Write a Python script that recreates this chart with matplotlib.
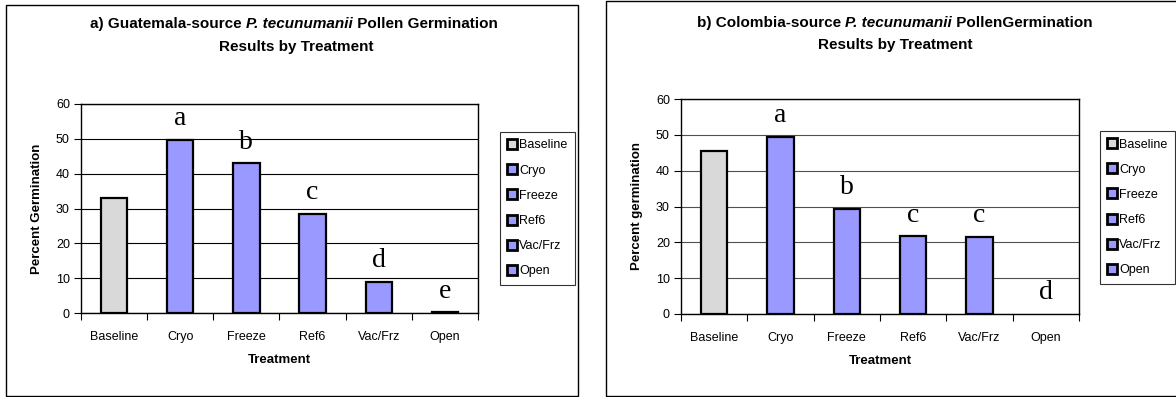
import matplotlib.pyplot as plt
from matplotlib.lines import Line2D
from matplotlib.patches import Rectangle

treatments = ["Baseline", "Cryo", "Freeze", "Ref6", "Vac/Frz", "Open"]
guatemala = [33.0, 49.7, 43.0, 28.5, 9.0, 0.2]
guatemala_letters = ["", "a", "b", "c", "d", "e"]
colombia = [45.4, 49.5, 29.3, 21.7, 21.5, 0.0]
colombia_letters = ["", "a", "b", "c", "c", "d"]

GREY = "#d9d9d9"
BLUE = "#9999ff"
colors = [GREY] + [BLUE] * 5

W, H = 1176, 397
plt.rcParams["font.family"] = ["Liberation Sans", "DejaVu Sans"]

fig = plt.figure(figsize=(W / 100, H / 100), dpi=100)
renderer = fig.canvas.get_renderer()


def px_axes(left, top, right, bottom):
    return fig.add_axes([left / W, (H - bottom) / H, (right - left) / W, (bottom - top) / H])


def title_line(x, y, pieces, size=11):
    # pieces: (text, italic) drawn one after another from pixel x
    for text, italic in pieces:
        t = fig.text(x / W, 1 - y / H, text, ha="left", va="center", fontsize=size,
                     fontweight="bold", fontstyle="italic" if italic else "normal")
        x = t.get_window_extent(renderer).x1


def draw_chart(ax, values, letters, ylabel, gridcolor):
    xs = range(len(treatments))
    ax.bar(xs, values, width=0.4, color=colors, edgecolor="black",
           linewidth=[1.6 if v > 0 else 0 for v in values], zorder=3)
    for x, v, s in zip(xs, values, letters):
        if s:
            ax.annotate(s, (x, v), xytext=(0, 10.5), textcoords="offset points",
                        ha="center", va="baseline", fontsize=20,
                        family=["Liberation Serif", "DejaVu Serif"])
    ax.set_xlim(-0.5, len(treatments) - 0.5)
    ax.set_ylim(0, 60)
    ax.set_yticks(range(0, 61, 10))
    ax.yaxis.grid(True, color=gridcolor, linewidth=0.8, zorder=0)
    ax.set_xticks(list(xs))
    ax.set_xticklabels(treatments, fontsize=9)
    ax.set_xticks([i + 0.5 for i in range(-1, len(treatments))], minor=True)
    ax.tick_params(axis="x", which="major", length=0, pad=13)
    ax.tick_params(axis="x", which="minor", length=5, width=0.8, direction="out")
    ax.tick_params(axis="y", length=5, width=0.8, labelsize=9, pad=3)
    for sp in ax.spines.values():
        sp.set_linewidth(1.0)
    ax.set_xlabel("Treatment", fontsize=9.5, fontweight="bold", labelpad=8)
    ax.set_ylabel(ylabel, fontsize=9.5, fontweight="bold", labelpad=9)


def draw_legend(left, top):
    handles = [Line2D([], [], linestyle="none", marker="s", markersize=7,
                      markerfacecolor=c, markeredgecolor="black", markeredgewidth=2.0)
               for c in colors]
    leg = fig.legend(handles, treatments, loc="upper left",
                     bbox_to_anchor=(left / W, (H - top) / H), fontsize=9,
                     frameon=True, fancybox=False, edgecolor="black",
                     handlelength=0.7, handletextpad=0.25, labelspacing=1.05,
                     borderpad=0.6, borderaxespad=0)
    leg.get_frame().set_linewidth(0.8)


# chart frames
fig.patches.append(Rectangle((6 / W, 1 - 396 / H), 572 / W, 391 / H, transform=fig.transFigure,
                             fill=False, edgecolor="black", linewidth=1.0))
fig.patches.append(Rectangle((606 / W, 1 - 396 / H), 600 / W, 395 / H, transform=fig.transFigure,
                             fill=False, edgecolor="black", linewidth=1.0))

ax1 = px_axes(81, 104, 478, 313)
draw_chart(ax1, guatemala, guatemala_letters, "Percent Germination", "black")
title_line(90, 24, [("a) Guatemala-source ", False), ("P. tecunumanii", True),
                    (" Pollen Germination", False)])
fig.text(296 / W, 1 - 47 / H, "Results by Treatment", ha="center", va="center",
         fontsize=11, fontweight="bold")
draw_legend(500, 132)

ax2 = px_axes(681, 99, 1079, 314)
draw_chart(ax2, colombia, colombia_letters, "Percent germination", "#505050")
title_line(697, 23, [("b) Colombia-source ", False), ("P. tecunumanii", True),
                     (" PollenGermination", False)])
fig.text(895 / W, 1 - 45 / H, "Results by Treatment", ha="center", va="center",
         fontsize=11, fontweight="bold")
draw_legend(1100, 131)

fig.savefig("out.png", dpi=100)
